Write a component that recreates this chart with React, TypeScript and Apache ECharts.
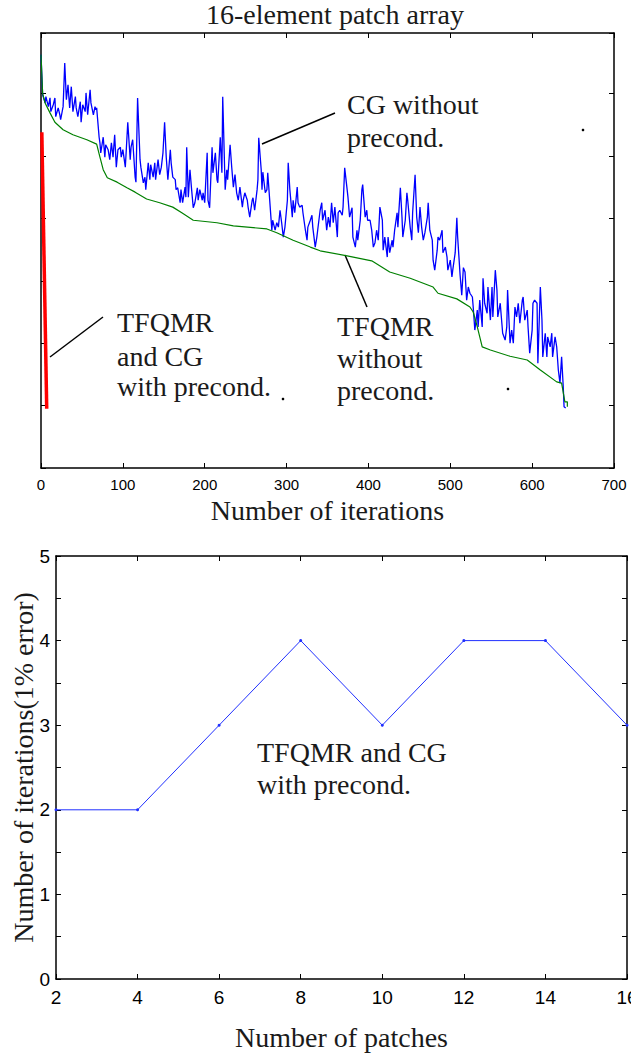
import React, { useEffect, useRef } from "react";
import * as echarts from "echarts";

const SERIF = "Liberation Serif, Times New Roman, serif";
const SANS = "Liberation Sans, Arial, sans-serif";
const FS = 28;

// Top panel: residual (decades, unlabeled) vs iteration
const cgNoPrecond: [number, number][] = [
  [0, 6.62], [2, 5.98], [5, 5.85], [6, 5.95], [9, 5.79], [11, 5.93], [12, 5.71], [15, 5.82], [17, 5.93], [18, 5.63],
  [21, 5.77], [23, 5.66], [24, 5.58], [27, 5.79], [29, 6.49], [31, 5.9], [33, 6.14], [35, 5.77], [37, 6.11], [39, 5.71],
  [42, 5.95], [43, 5.77], [45, 5.63], [48, 5.87], [49, 5.54], [51, 5.82], [54, 5.71], [55, 6.01], [57, 5.66], [60, 6.06],
  [61, 5.85], [64, 5.66], [66, 5.79], [67, 5.74], [68, 5.77], [71, 5.3], [72, 5.21], [73, 5.05], [76, 5.3], [78, 4.98],
  [79, 5.18], [82, 5.1], [84, 4.94], [86, 5.21], [88, 4.98], [90, 5.34], [92, 4.82], [94, 5.1], [97, 5.14], [98, 4.98],
  [100, 5.1], [103, 4.82], [104, 5.05], [106, 5.54], [109, 4.94], [110, 5.14], [112, 5.26], [115, 4.66], [116, 4.58], [118, 5.93],
  [121, 4.94], [122, 4.82], [125, 4.57], [127, 4.66], [128, 4.46], [131, 4.89], [133, 4.62], [134, 4.86], [137, 4.66], [139, 4.89],
  [140, 4.62], [143, 4.94], [145, 4.7], [147, 4.82], [149, 5.05], [151, 5.54], [153, 4.98], [155, 4.62], [158, 5.1], [159, 4.89],
  [161, 4.66], [164, 4.62], [165, 4.46], [167, 4.49], [170, 4.25], [171, 4.46], [173, 4.25], [176, 4.5], [177, 4.34], [178, 5.14],
  [180, 4.34], [182, 4.78], [184, 4.46], [186, 4.17], [188, 4.25], [191, 4.49], [192, 4.29], [194, 4.46], [197, 4.29], [198, 4.41],
  [200, 4.25], [203, 5.05], [204, 4.29], [206, 4.17], [209, 5.14], [210, 4.73], [213, 5.05], [215, 4.62], [216, 4.57], [219, 5.3],
  [221, 4.73], [222, 5.95], [225, 4.46], [227, 4.78], [228, 4.62], [231, 5.18], [233, 4.82], [235, 4.5], [237, 4.7], [239, 4.41],
  [241, 4.29], [243, 4.5], [246, 4.18], [247, 4.29], [249, 4.41], [252, 4.29], [253, 4.18], [255, 4.02], [258, 4.29], [259, 4.33],
  [261, 4.13], [264, 4.46], [265, 4.62], [266, 5.29], [269, 4.78], [270, 4.46], [271, 4.74], [274, 4.41], [276, 4.46], [277, 4.73],
  [280, 4.18], [282, 3.81], [283, 3.97], [286, 3.81], [288, 3.93], [290, 3.86], [292, 4.13], [294, 3.93], [296, 3.7], [298, 3.86],
  [301, 4.29], [302, 4.89], [304, 4.46], [307, 4.02], [308, 4.29], [310, 4.09], [313, 4.5], [314, 4.25], [316, 4.18], [319, 4.21],
  [320, 4.09], [323, 3.81], [325, 3.65], [326, 3.86], [329, 3.97], [331, 4.05], [332, 3.86], [335, 3.54], [337, 3.7], [338, 3.81],
  [341, 4.13], [343, 4.25], [344, 3.97], [347, 4.13], [349, 3.81], [351, 4.02], [353, 3.86], [355, 4.25], [357, 3.93], [359, 4.18],
  [362, 3.7], [363, 4.09], [365, 4.13], [368, 4.05], [369, 4.18], [371, 4.81], [374, 4.46], [375, 4.34], [377, 4.02], [380, 4.17],
  [381, 3.7], [384, 3.54], [386, 3.81], [387, 3.65], [390, 3.97], [392, 4.46], [393, 4.54], [396, 4.02], [398, 4.13], [399, 3.97],
  [402, 3.97], [404, 3.81], [406, 3.54], [408, 3.61], [410, 3.81], [412, 3.65], [414, 4.18], [417, 3.97], [418, 3.49], [420, 3.7],
  [423, 3.38], [424, 3.7], [426, 3.45], [429, 3.65], [430, 3.54], [432, 3.81], [435, 4.09], [436, 3.86], [439, 4.49], [441, 4.02],
  [442, 3.7], [445, 3.97], [447, 4.41], [448, 4.29], [451, 3.86], [453, 3.65], [454, 4.09], [457, 4.7], [459, 4.02], [461, 3.77],
  [463, 4.18], [465, 3.86], [467, 3.65], [469, 3.77], [472, 4.02], [473, 4.25], [475, 3.81], [478, 3.65], [479, 3.33], [481, 3.17],
  [484, 3.49], [485, 3.7], [487, 3.65], [490, 3.81], [491, 3.45], [494, 3.54], [496, 3.38], [497, 3.17], [500, 3.33], [502, 3.06],
  [503, 3.17], [506, 3.45], [508, 4.01], [509, 3.7], [512, 3.09], [514, 2.77], [516, 3.21], [518, 3.14], [520, 2.69], [522, 2.9],
  [524, 2.8], [527, 2.74], [528, 2.58], [530, 2.21], [533, 2.53], [534, 2.26], [536, 2.69], [539, 2.26], [540, 3.04], [542, 2.64],
  [545, 2.48], [546, 2.9], [549, 2.37], [551, 2.9], [552, 2.42], [555, 3.17], [557, 2.85], [558, 2.42], [561, 2.64], [563, 2.32],
  [564, 2.16], [567, 2.05], [569, 2.26], [570, 2.85], [573, 2.0], [575, 2.21], [577, 2.0], [579, 2.58], [581, 2.42], [583, 2.64],
  [585, 2.32], [588, 2.69], [589, 2.74], [591, 2.37], [594, 2.53], [595, 2.26], [597, 1.84], [600, 2.21], [601, 2.64], [603, 2.69],
  [606, 2.64], [607, 1.68], [610, 2.9], [612, 2.37], [613, 1.78], [616, 2.16], [618, 1.78], [619, 2.1], [622, 1.94], [624, 2.16],
  [625, 1.78], [628, 2.1], [630, 1.94], [632, 1.57], [634, 1.36], [636, 1.78], [638, 1.3], [639, 0.98], [641, 0.96],
];

const tfqmrNoPrecond: [number, number][] = [
  [0, 6.62], [2, 6.0], [5, 5.85], [11, 5.69], [17, 5.54], [27, 5.42], [39, 5.34], [56, 5.26], [68, 5.19], [72, 4.98],
  [76, 4.78], [81, 4.65], [93, 4.58], [105, 4.49], [115, 4.42], [129, 4.31], [145, 4.25], [161, 4.18], [172, 4.09], [186, 3.97],
  [215, 3.93], [235, 3.88], [276, 3.83], [288, 3.77], [308, 3.65], [329, 3.54], [341, 3.48], [374, 3.4], [404, 3.32], [426, 3.14],
  [451, 3.04], [479, 2.9], [485, 2.8], [508, 2.71], [524, 2.58], [528, 2.5], [533, 2.26], [539, 1.94], [549, 1.89], [573, 1.79],
  [594, 1.73], [610, 1.57], [630, 1.38], [636, 1.36], [640, 1.06], [643, 1.06], [643, 0.98],
];

const withPrecond: [number, number][] = [[1, 5.38], [7, 0.95]];

// Bottom panel
const patchCounts = [2, 4, 6, 8, 10, 12, 14, 16];
const patchIterations = [2, 2, 3, 4, 3, 4, 4, 3];

export default function App() {
  const ref = useRef<HTMLDivElement>(null);
  useEffect(() => {
    const chart = echarts.init(ref.current!, null, { renderer: "svg" });
    const axisLine = { onZero: false, lineStyle: { color: "#000", width: 1.5 } };
    const tickIn = { inside: true, length: 5, lineStyle: { color: "#000", width: 1 } };
    const nameStyle = { fontFamily: SERIF, fontSize: FS, color: "#1a1a1a" };
    const txt = (x: number, y: number, text: string, align = "left") => ({
      type: "text",
      x,
      y,
      style: { text, fontFamily: SERIF, fontSize: FS, fill: "#1a1a1a", align, verticalAlign: "top" },
    });
    const lead = (x1: number, y1: number, x2: number, y2: number) => ({
      type: "line",
      shape: { x1, y1, x2, y2 },
      style: { stroke: "#000", lineWidth: 1.5 },
    });
    const dot = (cx: number, cy: number) => ({ type: "circle", shape: { cx, cy, r: 1.3 }, style: { fill: "#000" } });

    chart.setOption({
      animation: false,
      backgroundColor: "#fff",
      grid: [
        { left: 41, top: 33, width: 573, height: 435, outerBoundsMode: "none", containLabel: false },
        { left: 56, top: 556, width: 571, height: 423, outerBoundsMode: "none", containLabel: false },
      ],
      xAxis: [
        {
          gridIndex: 0, type: "value", position: "bottom", min: 0, max: 700, interval: 100,
          axisLine, axisTick: tickIn, splitLine: { show: false },
          axisLabel: { color: "#000", fontFamily: SANS, fontSize: 15, margin: 9 },
          name: "Number of iterations", nameLocation: "middle", nameGap: 28, nameTextStyle: nameStyle,
          nameMoveOverlap: false,
        },
        {
          gridIndex: 0, type: "value", position: "top", min: 0, max: 700, interval: 100,
          axisLine, axisTick: tickIn, axisLabel: { show: false }, splitLine: { show: false },
        },
        {
          gridIndex: 1, type: "value", position: "bottom", min: 2, max: 16, interval: 2,
          axisLine, axisTick: tickIn, splitLine: { show: false },
          axisLabel: { color: "#000", fontFamily: SANS, fontSize: 19, margin: 9 },
          name: "Number of patches", nameLocation: "middle", nameGap: 44, nameTextStyle: nameStyle,
          nameMoveOverlap: false,
        },
        {
          gridIndex: 1, type: "value", position: "top", min: 2, max: 16, interval: 2,
          axisLine, axisTick: tickIn, axisLabel: { show: false }, splitLine: { show: false },
        },
      ],
      yAxis: [
        {
          gridIndex: 0, type: "value", position: "left", min: 0, max: 6.97, interval: 1,
          axisLine, axisTick: tickIn, axisLabel: { show: false }, splitLine: { show: false },
        },
        {
          gridIndex: 0, type: "value", position: "right", min: 0, max: 6.97, interval: 1,
          axisLine, axisTick: tickIn, axisLabel: { show: false }, splitLine: { show: false },
        },
        {
          gridIndex: 1, type: "value", position: "left", min: 0, max: 5, interval: 0.5,
          axisLine, axisTick: tickIn, splitLine: { show: false },
          axisLabel: {
            color: "#000", fontFamily: SANS, fontSize: 19, margin: 6,
            formatter: (v: number) => (Number.isInteger(v) ? String(v) : ""),
          },
          name: "Number of iterations(1% error)", nameLocation: "middle", nameGap: 19, nameRotate: 90,
          nameTextStyle: nameStyle, nameMoveOverlap: false,
        },
        {
          gridIndex: 1, type: "value", position: "right", min: 0, max: 5, interval: 0.5,
          axisLine, axisTick: tickIn, axisLabel: { show: false }, splitLine: { show: false },
        },
      ],
      series: [
        {
          name: "CG without precond.", type: "line", xAxisIndex: 0, yAxisIndex: 0, data: cgNoPrecond,
          showSymbol: false, lineStyle: { color: "#0000ff", width: 1.3 }, z: 2,
        },
        {
          name: "TFQMR without precond.", type: "line", xAxisIndex: 0, yAxisIndex: 0, data: tfqmrNoPrecond,
          showSymbol: false, lineStyle: { color: "#008000", width: 1.2 }, z: 3,
        },
        {
          name: "TFQMR and CG with precond.", type: "line", xAxisIndex: 0, yAxisIndex: 0, data: withPrecond,
          showSymbol: false, lineStyle: { color: "#ff0000", width: 3.5 }, z: 4,
        },
        {
          name: "Iterations vs patches", type: "line", xAxisIndex: 2, yAxisIndex: 2,
          data: patchCounts.map((p, i) => [p, patchIterations[i]]),
          symbol: "circle", symbolSize: 3, itemStyle: { color: "#2030ff" },
          lineStyle: { color: "#2030ff", width: 1 },
        },
      ],
      graphic: [
        txt(335, 0.5, "16-element patch array", "center"),
        txt(347, 90.5, "CG without"),
        txt(347, 123.5, "precond."),
        txt(337, 312.5, "TFQMR"),
        txt(337, 344.5, "without"),
        txt(337, 376.5, "precond."),
        txt(117, 308.5, "TFQMR"),
        txt(117, 342.5, "and CG"),
        txt(117, 372.5, "with precond."),
        txt(257, 738.5, "TFQMR and CG"),
        txt(257, 770.5, "with precond."),
        lead(262, 144, 335, 113),
        lead(345, 255, 367, 307),
        lead(50, 357, 103, 317),
        dot(283, 399),
        dot(508, 389),
        dot(583, 130),
      ],
    });
    return () => chart.dispose();
  }, []);
  return <div ref={ref} style={{ position: "fixed", left: 0, top: 0, width: 631, height: 1058 }} />;
}
